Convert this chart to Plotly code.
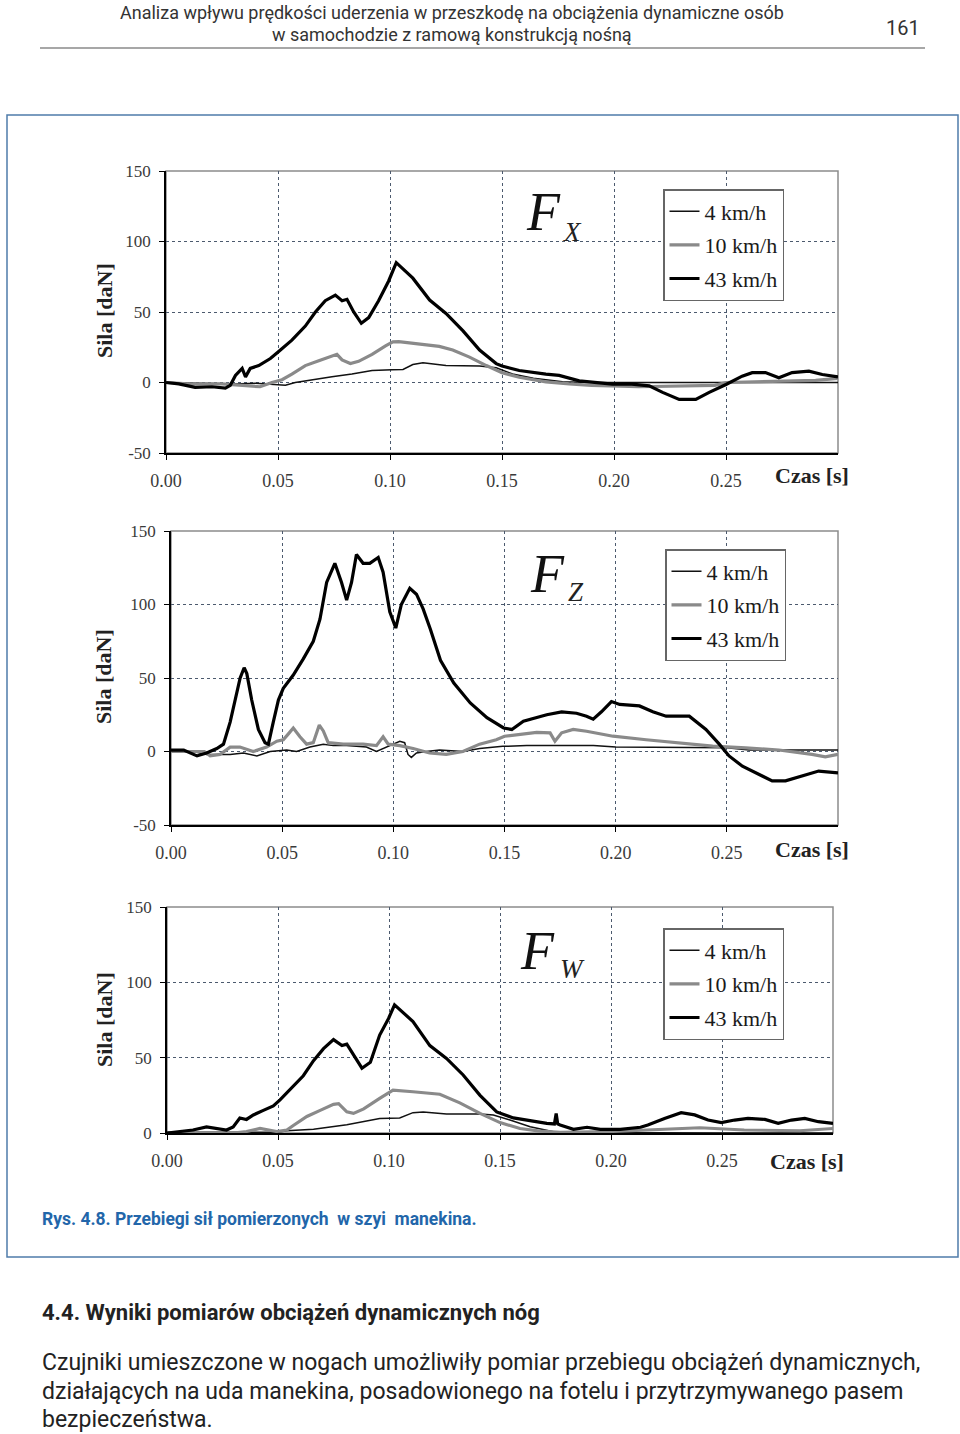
import plotly.graph_objects as go

# ---------------- data ----------------
series_names = ["4 km/h", "10 km/h", "43 km/h"]
x_tick_vals = [0.0, 0.05, 0.10, 0.15, 0.20, 0.25]
x_tick_text = ["0.00", "0.05", "0.10", "0.15", "0.20", "0.25"]
y_tick_vals = [-50, 0, 50, 100, 150]
y_tick_text = ["-50", "0", "50", "100", "150"]
y_tick_vals_w = [0, 50, 100, 150]
y_tick_text_w = ["0", "50", "100", "150"]

# Fx
fx_t_4 = [0, 0.01, 0.02, 0.03, 0.04, 0.045, 0.0503, 0.0533, 0.0577, 0.065, 0.0741, 0.083, 0.092, 0.1009, 0.1058,
          0.1102, 0.1147, 0.125, 0.14, 0.1474, 0.1547, 0.164, 0.177, 0.19, 0.21, 0.23, 0.25, 0.27, 0.29, 0.30]
fx_v_4 = [0, -0.5, -1, -1, -0.5, -1, -1.5, -2, 0, 2, 4, 6, 8.5, 9, 9.3,
          12.7, 14, 12, 11.7, 10.5, 6, 3, 0.5, 0, 0, 0, 0.3, 0.5, 0, 0]
fx_t_10 = [0, 0.01, 0.025, 0.0354, 0.042, 0.0473, 0.0518, 0.0562, 0.0622, 0.0682, 0.0741, 0.0763, 0.0786, 0.0823,
           0.086, 0.092, 0.098, 0.1013, 0.1039, 0.1102, 0.1173, 0.122, 0.128, 0.1355, 0.143, 0.15, 0.1577, 0.1696,
           0.18, 0.19, 0.211, 0.23, 0.245, 0.25, 0.26, 0.28, 0.29, 0.30]
fx_v_10 = [0, -1, -1, -2, -3, 0, 2, 6, 12, 15.5, 19, 20, 16, 13.5,
           15, 20, 26, 28.8, 29, 28, 26.5, 25.6, 23, 18, 12, 7, 3.7, 0.5,
           -1, -2, -3, -2.6, -2, 0, 0.5, 1, 1.5, 3]
fx_t_43 = [0, 0.0057, 0.013, 0.0205, 0.0265, 0.0287, 0.031, 0.034, 0.0355, 0.0376, 0.0414, 0.0443, 0.0466, 0.0503,
           0.0562, 0.0622, 0.0667, 0.0711, 0.0756, 0.0786, 0.0808, 0.0838, 0.0872, 0.0905, 0.0949, 0.0994, 0.1028,
           0.1102, 0.1177, 0.125, 0.1326, 0.14, 0.1474, 0.15, 0.1577, 0.1696, 0.1755, 0.1845, 0.1993, 0.2068, 0.2157,
           0.2217, 0.2291, 0.2365, 0.2425, 0.25, 0.2572, 0.2617, 0.2676, 0.2736, 0.2795, 0.287, 0.293, 0.30]
fx_v_43 = [0, -1, -3.5, -3, -4, -2, 5, 10, 4, 10, 12, 15, 17, 22,
           30, 40, 50, 58, 62, 58, 59, 50, 42, 46, 58, 72, 85,
           74, 58.5, 49, 36.6, 23, 13.4, 11.7, 8.5, 6, 5, 1.2, -1.2, -1, -2.4,
           -7, -12, -12, -7, -1.4, 4.5, 7, 7, 3.3, 7, 8, 5.7, 4]

# Fz
fz_t_4 = [0, 0.01, 0.016, 0.0266, 0.0326, 0.0386, 0.0446, 0.052, 0.0565, 0.0625, 0.0685, 0.073, 0.079, 0.0879,
          0.0924, 0.0969, 0.1029, 0.1051, 0.1066, 0.1081, 0.1104, 0.1148, 0.1208, 0.1313, 0.1388, 0.1492, 0.16,
          0.19, 0.20, 0.25, 0.26, 0.30]
fz_v_4 = [0, 0, -2, -2, -1, -3, 0, 1, 0, 3, 5, 4, 4, 3,
          0, 3, 7, 6, -2, -4, -1, 0, 1, 0, 2, 3.5, 4,
          4, 3, 2.5, 1, 1]
fz_t_10 = [0, 0.015, 0.0176, 0.022, 0.0266, 0.031, 0.037, 0.043, 0.0476, 0.0505, 0.0528, 0.055, 0.058, 0.061,
           0.064, 0.0667, 0.0685, 0.0707, 0.0775, 0.0864, 0.0924, 0.0954, 0.0977, 0.1029, 0.1089, 0.1163, 0.1238,
           0.1313, 0.1388, 0.1463, 0.15, 0.1645, 0.1705, 0.1727, 0.1757, 0.1809, 0.1869, 0.1988, 0.2137, 0.2287,
           0.2436, 0.2585, 0.2734, 0.2883, 0.2943, 0.30]
fz_v_10 = [0, 0, -3, -2, 3, 3, 0, 3, 7, 8, 12, 16, 10, 5,
           6, 18, 14, 6, 5, 5, 4, 10, 5, 4, 2, -1, -2,
           0, 5, 8, 10.4, 13, 12.7, 7, 12.7, 15, 13.8, 10.4, 8, 6,
           3.6, 2.5, 1, -2, -3.6, -2]
fz_t_43 = [0, 0.0057, 0.0117, 0.016, 0.0206, 0.0236, 0.0266, 0.0296, 0.0311, 0.0329, 0.0341, 0.0363, 0.0393,
           0.0423, 0.0438, 0.046, 0.0483, 0.0505, 0.055, 0.0595, 0.064, 0.067, 0.07, 0.0737, 0.0767, 0.079, 0.0812,
           0.0834, 0.0864, 0.0894, 0.0932, 0.0954, 0.0984, 0.1011, 0.1036, 0.1074, 0.1104, 0.1134, 0.1167, 0.1212,
           0.1272, 0.1346, 0.1421, 0.1496, 0.1533, 0.1585, 0.1645, 0.169, 0.1757, 0.1824, 0.1869, 0.1899, 0.1936,
           0.1981, 0.2018, 0.2107, 0.2167, 0.2227, 0.2331, 0.2406, 0.2466, 0.251, 0.257, 0.2645, 0.2704, 0.2764,
           0.2839, 0.2913, 0.30]
fz_v_43 = [1, 1, -3, -1, 2, 5, 20, 40, 50, 57, 53, 35, 15,
           6, 5, 20, 35, 43, 52, 63, 75, 90, 115, 128, 115, 103, 115,
           134, 128, 128, 132, 122, 95, 84, 100, 111, 107, 97, 83, 62,
           46.6, 33, 23, 16, 15, 20.6, 23, 25, 27, 26, 24, 22, 27,
           34, 32, 31, 27, 24, 24, 15, 5, -3, -10, -15.6, -20, -20,
           -16.7, -13.3, -14.5]

# Fw
fw_t_4 = [0, 0.05, 0.054, 0.066, 0.081, 0.093, 0.0958, 0.1048, 0.1108, 0.1154, 0.1259, 0.141, 0.147, 0.1545,
          0.1636, 0.1741, 0.19, 0.25, 0.30]
fw_v_4 = [0.5, 0.5, 1.5, 2.5, 5.5, 8.5, 9.7, 10, 13.5, 14, 12.6, 12.6, 12, 8.6,
          4.2, 0.9, 0.3, 0, 0]
fw_t_10 = [0, 0.03, 0.0358, 0.0419, 0.0494, 0.054, 0.0569, 0.063, 0.069, 0.075, 0.0773, 0.081, 0.084, 0.0886,
           0.0958, 0.1018, 0.1108, 0.1229, 0.1319, 0.141, 0.15, 0.159, 0.168, 0.1771, 0.20, 0.23, 0.24, 0.26,
           0.285, 0.30]
fw_v_10 = [0, 0, 1, 3, 1, 2, 5, 11, 15, 19, 19.5, 14, 13, 16,
           23, 28.5, 27.4, 25.7, 20, 13, 6.9, 3, 1.3, 0.4, 1, 2.5, 3.5, 2,
           1.5, 3]
fw_t_43 = [0, 0.0057, 0.0117, 0.0178, 0.0238, 0.0268, 0.0298, 0.0328, 0.0358, 0.0389, 0.0434, 0.0479, 0.0509,
           0.0569, 0.0614, 0.066, 0.0705, 0.075, 0.0788, 0.081, 0.0848, 0.0878, 0.0916, 0.0958, 0.0998, 0.1025,
           0.1108, 0.1184, 0.1259, 0.1334, 0.141, 0.1485, 0.156, 0.1636, 0.1711, 0.1745, 0.1753, 0.176, 0.1771,
           0.1831, 0.1892, 0.1952, 0.2042, 0.2133, 0.2166, 0.2241, 0.2316, 0.2377, 0.2437, 0.2497, 0.2557, 0.2617,
           0.2693, 0.2753, 0.2813, 0.2873, 0.2934, 0.30]
fw_v_43 = [0, 1, 2, 4, 3, 2, 4, 10, 9, 12, 15, 18, 22,
           31, 38, 48, 56, 62, 58, 59, 50, 43, 47, 65, 76, 85,
           74, 58, 49.5, 38.5, 25, 14, 10, 8, 6.4, 6, 13, 6, 5.3,
           2.4, 3.8, 2.4, 2.4, 3.8, 5.3, 9.7, 13.5, 12, 8.6, 6.9, 8.6, 9.7,
           9, 6.4, 8.6, 9.7, 7.5, 6.4]

# ---------------- layout helpers ----------------
W, H = 960, 1434
SERIF = "Liberation Serif, Times New Roman, serif"
SANS = "Roboto, sans-serif"


def px(x):
    return x / W


def py(y):
    return 1 - y / H


styles = [dict(color="#111111", width=1.5), dict(color="#8a8a8a", width=3.2), dict(color="#000000", width=3.2)]

panels = [
    dict(name="X", data=[(fx_t_4, fx_v_4), (fx_t_10, fx_v_10), (fx_t_43, fx_v_43)],
         xd=(166, 838), yd=(171, 453), yr=[-50, 150], yt=(y_tick_vals, y_tick_text),
         legend=(663, 189), F=(543, 212), sub=(572, 232), title_y=311, czas_y=476),
    dict(name="Z", data=[(fz_t_4, fz_v_4), (fz_t_10, fz_v_10), (fz_t_43, fz_v_43)],
         xd=(171, 838), yd=(531, 825), yr=[-50, 150], yt=(y_tick_vals, y_tick_text),
         legend=(665, 549), F=(547, 574), sub=(576, 592), title_y=677, czas_y=849),
    dict(name="W", data=[(fw_t_4, fw_v_4), (fw_t_10, fw_v_10), (fw_t_43, fw_v_43)],
         xd=(167, 833), yd=(907, 1133), yr=[0, 150], yt=(y_tick_vals_w, y_tick_text_w),
         legend=(663, 928), F=(537, 951), sub=(572, 969), title_y=1020, czas_y=1161),
]

fig = go.Figure()
layout = dict(width=W, height=H, margin=dict(l=0, r=0, t=0, b=0), paper_bgcolor="white",
              plot_bgcolor="white", template="none", showlegend=True, font=dict(family=SERIF))
shapes = []
annotations = []


def note(x, y, text, font, xanchor="center", **kw):
    d = dict(x=px(x), y=py(y), xref="paper", yref="paper", text=text, showarrow=False, font=font,
             xanchor=xanchor, yanchor="middle")
    d.update(kw)
    return d


for i, p in enumerate(panels):
    k = "" if i == 0 else str(i + 1)
    xa, ya = "x" + k, "y" + k
    leg = "legend" + k
    for j, (t, v) in enumerate(p["data"]):
        fig.add_trace(go.Scatter(x=t, y=v, mode="lines", name=series_names[j], line=styles[j],
                                 xaxis=xa, yaxis=ya, legend=leg, legendgroup=f"g{i}{j}",
                                 showlegend=True))
    layout["xaxis" + k] = dict(domain=[px(p["xd"][0]), px(p["xd"][1])], anchor=ya, range=[0, 0.30],
                               tickvals=x_tick_vals, ticktext=x_tick_text, showgrid=True,
                               gridcolor="#4c5a6e", griddash="dot", gridwidth=1, zeroline=False,
                               showline=True, linecolor="black", linewidth=1.5, ticks="outside",
                               ticklen=5, tickcolor="black", ticklabelstandoff=6,
                               tickfont=dict(family=SERIF, size=18, color="#3a3a3a"), automargin=False)
    layout["yaxis" + k] = dict(domain=[py(p["yd"][1]), py(p["yd"][0])], anchor=xa, range=p["yr"],
                               tickvals=p["yt"][0], ticktext=p["yt"][1], showgrid=True,
                               gridcolor="#4c5a6e", griddash="dot", gridwidth=1, zeroline=False,
                               showline=True, linecolor="black", linewidth=1.5, ticks="outside",
                               ticklen=5, tickcolor="black", ticklabelstandoff=5,
                               tickfont=dict(family=SERIF, size=17, color="#3a3a3a"), automargin=False)
    layout[leg] = dict(x=px(p["legend"][0]), y=py(p["legend"][1]), xanchor="left", yanchor="top",
                       bgcolor="white", bordercolor="#666666", borderwidth=1.5,
                       font=dict(family=SERIF, size=22, color="#1a1a1a"), tracegroupgap=2,
                       itemwidth=30)
    shapes.append(dict(type="rect", xref=xa + " domain", yref=ya + " domain", x0=0, x1=1, y0=0, y1=1,
                       line=dict(color="#8c8c8c", width=1.5), layer="below"))
    annotations.append(note(p["F"][0], p["F"][1], "<i>F</i>", dict(family=SERIF, size=54, color="#111")))
    annotations.append(note(p["sub"][0], p["sub"][1], "<i>" + p["name"] + "</i>",
                            dict(family=SERIF, size=27, color="#222")))
    annotations.append(note(104, p["title_y"], "<b>Sila [daN]</b>", dict(family=SERIF, size=22, color="#222"),
                            textangle=-90))
    annotations.append(note(p["xd"][1] + 13, p["czas_y"], "<b>Czas [s]</b>",
                            dict(family=SERIF, size=22, color="#222"), xanchor="right"))

# page elements
annotations += [
    note(452, 12, "Analiza wpływu prędkości uderzenia w przeszkodę na obciążenia dynamiczne osób",
         dict(family=SANS, size=18, color="#333")),
    note(452, 34, "w samochodzie z ramową konstrukcją nośną", dict(family=SANS, size=18, color="#333")),
    note(922, 28, "161", dict(family=SANS, size=20, color="#333"), xanchor="right"),
    note(40, 1219, "<b>Rys. 4.8. Przebiegi sił pomierzonych  w szyi  manekina.</b>",
         dict(family=SANS, size=17.5, color="#2266aa"), xanchor="left"),
    note(40, 1312, "<b>4.4. Wyniki pomiarów obciążeń dynamicznych nóg</b>",
         dict(family=SANS, size=22, color="#222"), xanchor="left"),
    note(40, 1362, "Czujniki umieszczone w nogach umożliwiły pomiar przebiegu obciążeń dynamicznych,",
         dict(family=SANS, size=23, color="#222"), xanchor="left"),
    note(40, 1391, "działających na uda manekina, posadowionego na fotelu i przytrzymywanego pasem",
         dict(family=SANS, size=23, color="#222"), xanchor="left"),
    note(40, 1419, "bezpieczeństwa.", dict(family=SANS, size=23, color="#222"), xanchor="left"),
]
shapes += [
    dict(type="line", xref="paper", yref="paper", x0=px(40), x1=px(925), y0=py(48), y1=py(48),
         line=dict(color="#8a8a8a", width=1.5)),
    dict(type="rect", xref="paper", yref="paper", x0=px(7), x1=px(958), y0=py(1257), y1=py(115),
         line=dict(color="#4f7cab", width=1.5)),
]
layout["shapes"] = shapes
layout["annotations"] = annotations
fig.update_layout(**layout)
fig.write_html("out.html", config={"displayModeBar": False},
               post_script="document.body.style.margin='0';document.body.style.overflow='hidden';")
